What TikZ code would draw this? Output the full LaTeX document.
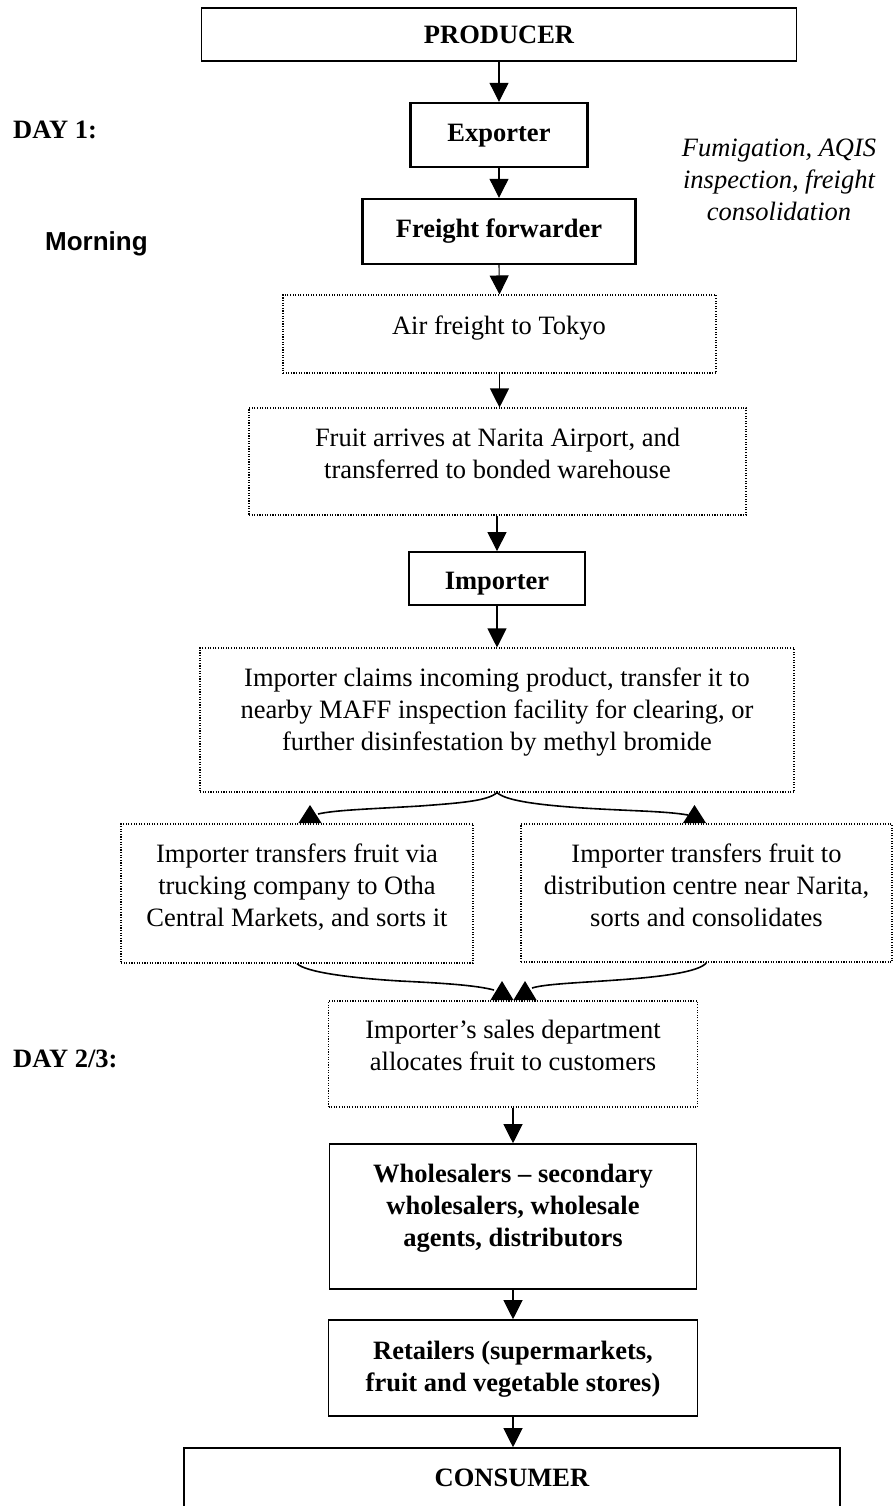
\documentclass[tikz,border=0pt]{standalone}
\usepackage{fontspec}
\setmainfont{Liberation Serif}
\newfontfamily\arialfont{Liberation Sans}
\usetikzlibrary{arrows.meta}
\begin{document}
\begin{tikzpicture}[x=1pt,y=-1pt,
  box/.style={draw, line width=1.6pt, inner sep=0pt},
  boldbox/.style={draw, line width=2.4pt, inner sep=0pt},
  dotbox/.style={draw, line width=1.1pt, dash pattern=on 1.1pt off 1.5pt, inner sep=0pt},
  txt/.style={align=center, inner sep=0pt, font=\fontsize{26.5}{32}\selectfont},
  btxt/.style={align=center, inner sep=0pt, font=\fontsize{26.5}{32}\selectfont\bfseries},
  itxt/.style={align=center, inner sep=0pt, font=\fontsize{26.5}{32}\selectfont\itshape},
  stxt/.style={inner sep=0pt, font=\fontsize{26}{31}\selectfont\arialfont\bfseries},
  arr/.style={line width=1.1pt, -{Triangle[width=19pt,length=19pt]}},
  curve/.style={line width=1.6pt},
  tipfill/.style={fill=black}
]
\useasboundingbox (0,0) rectangle (893,1506);
\clip (0,0) rectangle (893,1506);

% boxes
\node[box, minimum width=595pt, minimum height=53pt] (prod) at (499,34.5) {};
\node[boldbox, minimum width=177pt, minimum height=64pt] (exp) at (499,135) {};
\node[boldbox, minimum width=273pt, minimum height=65pt] (ff) at (499,231.5) {};
\node[dotbox, minimum width=433pt, minimum height=78pt] (air) at (499.5,334) {};
\node[dotbox, minimum width=497pt, minimum height=107pt] (fruit) at (497.5,461.5) {};
\node[box, line width=1.8pt, minimum width=176pt, minimum height=53pt] (imp) at (497,578.5) {};
\node[dotbox, minimum width=594pt, minimum height=144pt] (claims) at (497,720) {};
\node[dotbox, minimum width=352pt, minimum height=139pt] (left) at (297,893.5) {};
\node[dotbox, minimum width=371pt, minimum height=138pt] (right) at (706.5,893) {};
\node[dotbox, minimum width=369pt, minimum height=106pt] (sales) at (513,1054) {};
\node[box, minimum width=367pt, minimum height=145pt] (whole) at (513,1216.5) {};
\node[box, minimum width=369pt, minimum height=96pt] (ret) at (513,1368) {};
\node[box, minimum width=656pt, minimum height=120pt] (cons) at (512,1508) {};

% texts
\node[btxt, anchor=base] (tprod) at (499,44) {PRODUCER};
\node[btxt, anchor=base] (texp) at (499,142) {Exporter};
\node[btxt, anchor=base] (tff) at (499,238) {Freight forwarder};
\node[txt, anchor=base] (tair) at (499,334) {Air freight to Tokyo};
\node[txt, anchor=north] (tfruit) at (497.5,428) {Fruit arrives at Narita Airport, and\\transferred to bonded warehouse};
\node[btxt, anchor=base] (timp) at (497,589) {Importer};
\node[txt, anchor=north] (tclaims) at (497,668) {Importer claims incoming product, transfer it to\\nearby MAFF inspection facility for clearing, or\\further disinfestation by methyl bromide};
\node[txt, anchor=north] (tleft) at (297,844) {Importer transfers fruit via\\trucking company to Otha\\Central Markets, and sorts it};
\node[txt, anchor=north] (tright) at (706.5,844) {Importer transfers fruit to\\distribution centre near Narita,\\sorts and consolidates};
\node[txt, anchor=north] (tsales) at (513,1020) {Importer’s sales department\\allocates fruit to customers};
\node[btxt, anchor=north] (twhole) at (513,1164) {Wholesalers – secondary\\wholesalers, wholesale\\agents, distributors};
\node[btxt, anchor=north] (tret) at (513,1341) {Retailers (supermarkets,\\fruit and vegetable stores)};
\node[btxt, anchor=base] (tcons) at (512,1486) {CONSUMER};
\node[itxt, anchor=north] (tfum) at (779,139) {Fumigation, AQIS\\inspection, freight\\consolidation};
\node[btxt, anchor=base west] (day1) at (13,139) {DAY 1:};
\node[stxt, anchor=base west] (morn) at (45,251) {Morning};
\node[btxt, anchor=base west] (day2) at (13,1067) {DAY 2/3:};

% straight arrows
\draw[arr] (prod.south -| exp.north) -- (exp.north);
\draw[arr] (exp.south) -- (ff.north);
\draw[arr] (ff.south) -- (air.north);
\draw[arr] (air.south) -- (air.south |- fruit.north);
\draw[arr] (fruit.south -| imp.north) -- (imp.north);
\draw[arr] (imp.south) -- (claims.north);
\draw[arr] (sales.south) -- (whole.north);
\draw[arr] (whole.south) -- (ret.north);
\draw[arr] (ret.south) -- (ret.south |- cons.north);

% branching curves
\coordinate (bl) at (318,814);
\coordinate (br) at (688,815);
\draw[curve] (claims.south) .. controls (488,801) and (460,803) .. (420,806) .. controls (370,809) and (335,810) .. (bl);
\draw[curve] (claims.south) .. controls (506,801) and (540,805) .. (583,808) .. controls (630,811) and (665,811) .. (br);
\fill[tipfill] (310,805) -- (321.5,823) -- (298.5,823) -- cycle;
\fill[tipfill] (694.5,805) -- (706,823) -- (683,823) -- cycle;

% merging curves
\coordinate (ml) at (494,990);
\coordinate (mr) at (532,988);
\draw[curve] (left.south) .. controls (305,972) and (350,978) .. (400,981) .. controls (440,983) and (475,985) .. (ml);
\draw[curve] (right.south) .. controls (700,972) and (660,977) .. (617,980) .. controls (575,983) and (545,984) .. (mr);
\fill[tipfill] (502,981) -- (513.5,1000) -- (490.5,1000) -- cycle;
\fill[tipfill] (525,981) -- (536.5,1000) -- (513.5,1000) -- cycle;
\end{tikzpicture}
\end{document}
